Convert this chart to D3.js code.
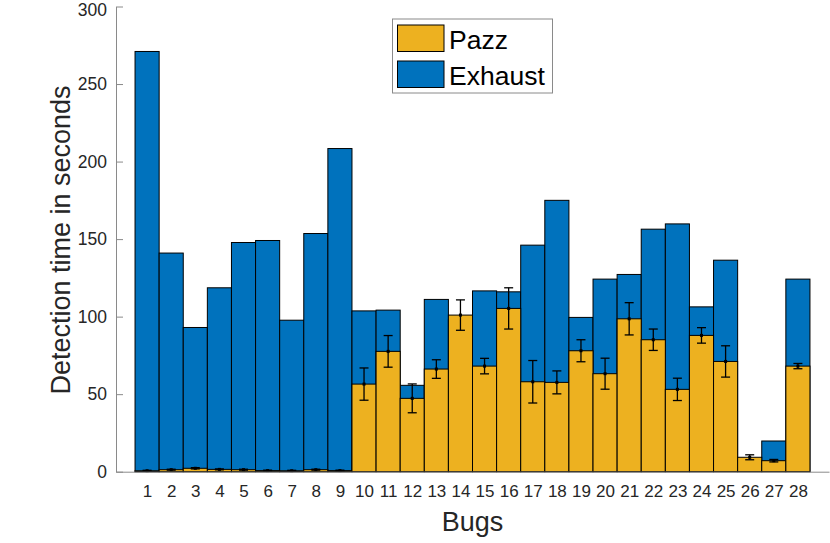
<!DOCTYPE html>
<html><head><meta charset="utf-8">
<script src="https://cdn.jsdelivr.net/npm/d3@7"></script>
<style>body{margin:0;background:#fff}svg{display:block}text{font-family:"Liberation Sans",Arial,Helvetica,sans-serif}</style>
</head><body>
<svg id="c" width="830" height="543"></svg>
<script>
const bugs = d3.range(1, 29);
const exhaust = [271, 141, 93, 118.6, 147.8, 149.1, 97.7, 153.6, 208.4, 103.7, 104.2, 55.7, 111.1, 98, 116.6, 116, 146.1, 175, 99.5, 124.2, 127.2, 156.4, 159.8, 106.3, 136.4, 8, 19.8, 124.2];
const pazz = [0.6, 1.3, 2.2, 1.5, 1.3, 0.7, 0.6, 1.3, 0.7, 56.5, 77.6, 47.3, 66.2, 101, 68.1, 105.3, 58, 57.6, 78, 63.2, 98.6, 85.1, 53.1, 87.9, 71.1, 9.3, 7.1, 68.1];
const pazzErr = [0.3, 0.3, 0.4, 0.3, 0.3, 0.3, 0.3, 0.3, 0.3, 10.4, 10.2, 9.3, 6, 9.8, 5, 13.3, 13.7, 7.4, 7.1, 10, 10.4, 6.9, 7.2, 5, 10.1, 1.6, 0.8, 1.7];
const yTicks = [0, 50, 100, 150, 200, 250, 300];
const seriesNames = ["Pazz", "Exhaust"];
const colors = {Pazz: "#EDB120", Exhaust: "#0072BD"};

const svg = d3.select("#c");
const x = d3.scaleLinear().domain([-0.29, 29.29]).range([116, 829]);
const y = d3.scaleLinear().domain([0, 300]).range([471.7, 6.5]);
const bw = x(1) - x(0);

// Exhaust bars (behind)
svg.append("g").selectAll("rect").data(bugs).join("rect")
  .attr("x", d => x(d) - bw / 2).attr("width", bw)
  .attr("y", (d, i) => y(exhaust[i])).attr("height", (d, i) => y(0) - y(exhaust[i]))
  .attr("fill", colors.Exhaust).attr("stroke", "#000").attr("stroke-width", 1);

// Pazz bars (front)
svg.append("g").selectAll("rect").data(bugs).join("rect")
  .attr("x", d => x(d) - bw / 2).attr("width", bw)
  .attr("y", (d, i) => y(pazz[i])).attr("height", (d, i) => y(0) - y(pazz[i]))
  .attr("fill", colors.Pazz).attr("stroke", "#000").attr("stroke-width", 1);

// error bars
const eg = svg.append("g").attr("stroke", "#000").attr("stroke-width", 1.3);
bugs.forEach((d, i) => {
  const cx = x(d), hi = y(pazz[i] + pazzErr[i]), lo = y(pazz[i] - pazzErr[i]);
  eg.append("line").attr("x1", cx).attr("x2", cx).attr("y1", hi).attr("y2", lo);
  eg.append("line").attr("x1", cx - 4.5).attr("x2", cx + 4.5).attr("y1", hi).attr("y2", hi);
  eg.append("line").attr("x1", cx - 4.5).attr("x2", cx + 4.5).attr("y1", lo).attr("y2", lo);
  svg.append("rect").attr("x", cx - 1.5).attr("y", y(pazz[i]) - 1.5).attr("width", 3).attr("height", 3).attr("fill", "#000");
});

// axes
const yAxis = d3.axisLeft(y).tickValues(yTicks).tickSizeInner(-7).tickSizeOuter(0).tickPadding(9);
const ya = svg.append("g").attr("transform", "translate(116,0)").call(yAxis);
ya.select(".domain").attr("stroke", "#8a8a8a");
ya.selectAll(".tick line").attr("stroke", "#8a8a8a");
ya.selectAll("text").attr("font-size", 17.5).attr("fill", "#262626").attr("font-family", '"Liberation Sans",Arial,sans-serif');
ya.selectAll(".tick").filter(d => d === 300).select("text").attr("dy", "0.5em");

const xAxis = d3.axisBottom(x).tickValues(bugs).tickSize(0).tickPadding(13);
const xa = svg.append("g").attr("transform", `translate(0,${y(0)})`).call(xAxis);
xa.select(".domain").attr("stroke", "#8a8a8a");
xa.selectAll("text").attr("font-size", 17).attr("fill", "#262626").attr("font-family", '"Liberation Sans",Arial,sans-serif');

// labels
svg.append("text").attr("x", 472.5).attr("y", 531).attr("text-anchor", "middle")
  .attr("font-size", 27).attr("fill", "#262626").text("Bugs");
svg.append("text").attr("transform", "translate(70,240) rotate(-90)").attr("text-anchor", "middle")
  .attr("font-size", 27).attr("fill", "#262626").text("Detection time in seconds");

// legend
const lg = svg.append("g");
lg.append("rect").attr("x", 392.5).attr("y", 19).attr("width", 160).attr("height", 74)
  .attr("fill", "#fff").attr("stroke", "#8a8a8a").attr("stroke-width", 1);
seriesNames.forEach((s, i) => {
  const yy = 25 + i * 36;
  lg.append("rect").attr("x", 397.5).attr("y", yy).attr("width", 46.5).attr("height", 26.5)
    .attr("fill", colors[s]).attr("stroke", "#000").attr("stroke-width", 1);
  lg.append("text").attr("x", 449).attr("y", yy + 23.5).attr("font-size", 26.5).attr("fill", "#000").text(s);
});
</script>
</body></html>
